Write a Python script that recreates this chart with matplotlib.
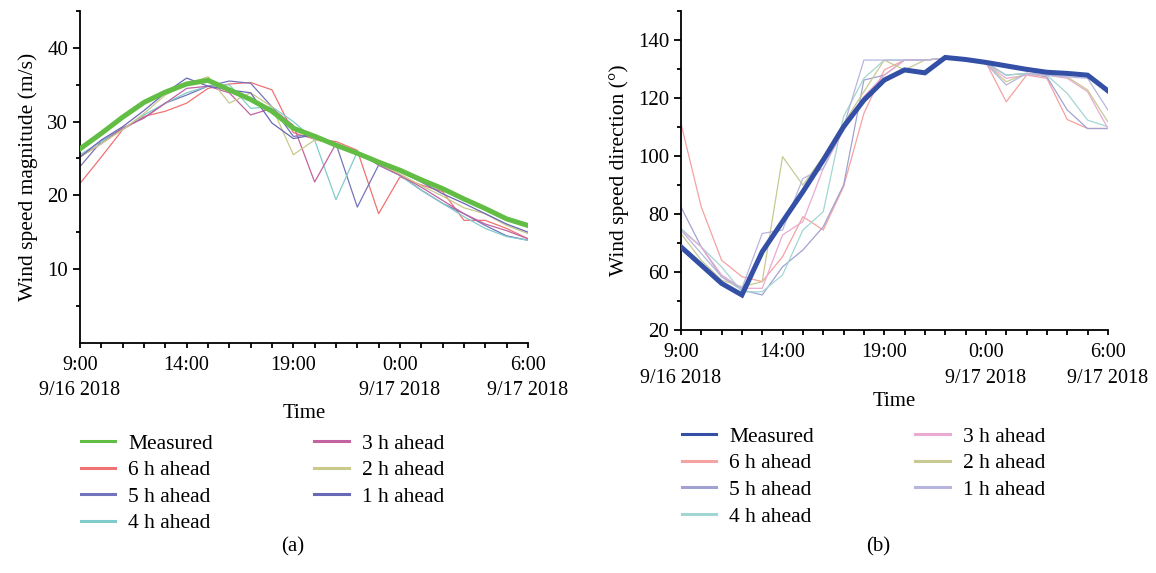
import numpy as np
import matplotlib
matplotlib.use('Agg')
import matplotlib.pyplot as plt
from matplotlib.lines import Line2D

plt.rcParams['font.family'] = ['Liberation Serif', 'DejaVu Serif']
plt.rcParams['font.size'] = 14

hours = np.arange(22)  # 9:00 9/16 -> 6:00 9/17, hourly
tick_text = {0: '9:00\n9/16 2018', 5: '14:00', 10: '19:00',
             15: '0:00\n9/17 2018', 21: '6:00\n9/17 2018'}

labels = ['Measured', '6 h ahead', '5 h ahead', '4 h ahead',
          '3 h ahead', '2 h ahead', '1 h ahead']

# (a) wind speed magnitude (m/s)
speed_measured = [26.3, 28.4, 30.6, 32.6, 34.0, 35.1, 35.6, 34.3, 33.0, 31.4, 29.1,
                  28.0, 26.8, 25.7, 24.5, 23.4, 22.1, 20.9, 19.5, 18.2, 16.8, 15.9]
speed_6h = [21.6, 25.2, 28.9, 30.7, 31.4, 32.5, 34.5, 35.1, 35.3, 34.3, 28.5,
            27.6, 27.3, 26.1, 17.5, 22.5, 21.4, 20.5, 16.6, 16.6, 15.5, 14.1]
speed_5h = [23.9, 27.3, 29.1, 30.5, 32.5, 33.6, 34.8, 35.5, 35.2, 32.0, 28.0,
            28.2, 27.0, 18.4, 24.1, 22.7, 20.7, 18.9, 17.5, 15.9, 14.5, 13.9]
speed_4h = [25.5, 27.3, 28.9, 30.9, 32.5, 33.9, 34.8, 35.0, 31.8, 32.0, 30.0,
            27.5, 19.4, 25.9, 24.1, 22.7, 20.7, 18.9, 17.1, 15.5, 14.4, 13.9]
speed_3h = [25.2, 27.0, 29.1, 30.5, 32.5, 34.5, 34.8, 33.9, 30.9, 31.8, 29.5,
            21.8, 27.0, 25.9, 24.1, 22.7, 21.1, 19.3, 17.5, 16.1, 15.2, 14.1]
speed_2h = [25.2, 27.0, 28.9, 31.1, 33.6, 35.0, 36.1, 32.5, 33.9, 32.0, 25.5,
            27.5, 27.0, 25.7, 24.3, 22.9, 21.3, 19.9, 18.3, 17.5, 15.9, 14.8]
speed_1h = [25.2, 27.5, 29.3, 31.5, 33.9, 35.9, 34.8, 34.3, 33.9, 29.8, 27.7,
            28.2, 27.0, 25.7, 24.3, 23.2, 21.8, 20.2, 18.9, 17.5, 16.1, 15.0]

# (b) wind speed direction (deg)
dir_measured = [68.7, 62.4, 56.1, 52.1, 67.0, 77.4, 87.7, 98.6, 110.1, 119.3, 126.2,
                129.7, 128.7, 134.0, 133.3, 132.3, 131.1, 129.9, 128.9, 128.5, 127.9, 122.5]
dir_6h = [111.3, 82.5, 64.1, 58.4, 56.7, 65.3, 79.1, 74.5, 89.4, 114.7, 129.7,
          133.1, 133.1, 133.7, 133.1, 132.3, 118.7, 127.9, 126.8, 112.6, 109.5, 109.5]
dir_5h = [82.5, 68.7, 58.4, 53.8, 52.1, 61.8, 67.6, 75.6, 90.0, 126.2, 127.9,
          133.1, 133.1, 133.7, 133.1, 132.3, 127.9, 128.5, 127.3, 115.9, 109.5, 109.5]
dir_4h = [75.1, 68.7, 61.8, 53.2, 53.2, 59.0, 74.5, 80.8, 113.6, 126.8, 133.1,
          133.1, 133.1, 133.7, 133.1, 131.9, 127.9, 128.5, 127.9, 121.6, 112.4, 110.1]
dir_3h = [74.5, 68.7, 59.0, 54.4, 54.4, 72.8, 77.4, 95.7, 109.0, 120.5, 127.9,
          133.1, 133.1, 133.7, 133.1, 131.9, 126.8, 127.9, 127.9, 126.8, 122.2, 109.5]
dir_2h = [73.3, 64.1, 57.2, 54.9, 56.7, 99.8, 90.0, 99.8, 111.3, 122.2, 133.1,
          129.7, 133.1, 133.7, 133.1, 131.9, 125.6, 128.5, 127.9, 127.3, 122.8, 111.8]
dir_1h = [74.5, 66.4, 58.4, 54.4, 73.3, 74.5, 92.3, 95.7, 110.1, 133.1, 133.1,
          133.1, 133.1, 133.7, 133.1, 131.9, 124.5, 128.5, 127.9, 127.3, 126.8, 115.9]

colors_a = ['#62bd45', '#f07272', '#7474bc', '#82cbcb', '#c262a0', '#c9c98a', '#6868b6']
colors_b = ['#3450a6', '#f4a2a2', '#a2a2d2', '#a2d6d2', '#eaaad2', '#c9c994', '#b6b6de']

fig = plt.figure(figsize=(11.56, 5.73), dpi=100)
ax1 = fig.add_axes([0.0692, 0.4019, 0.3875, 0.5789])
ax2 = fig.add_axes([0.589, 0.424, 0.3694, 0.5567])


def draw(ax, series, colors, main_lw):
    for i in range(1, 7):
        ax.plot(hours, series[i], color=colors[i], lw=0.9)
    ax.plot(hours, series[0], color=colors[0], lw=main_lw,
            solid_joinstyle='miter', zorder=5)
    # legend swatches all share one thickness
    return [Line2D([], [], color=c, lw=2.2) for c in colors]


def style(ax):
    for s in ['top', 'right']:
        ax.spines[s].set_visible(False)
    for s in ['left', 'bottom']:
        ax.spines[s].set_linewidth(1.3)
    ax.set_xlim(0, 21)
    ax.set_xticks(hours)
    ax.set_xticklabels([tick_text.get(h, '') for h in hours], linespacing=1.45)
    for h, t in zip(hours, ax.xaxis.get_major_ticks()):
        # long ticks on even clock hours
        t.tick1line.set_markersize(6 if (h + 9) % 2 == 0 else 3.5)
    ax.tick_params(axis='x', width=1.3, pad=6, labelsize=14.5)
    ax.tick_params(axis='y', which='major', length=5, width=1.3, labelsize=15)
    ax.tick_params(axis='y', which='minor', length=3, width=1.3)
    ax.set_xlabel('Time', fontsize=15, labelpad=3)


h1 = draw(ax1, [speed_measured, speed_6h, speed_5h, speed_4h, speed_3h, speed_2h, speed_1h],
          colors_a, 3.6)
style(ax1)
ax1.set_ylim(0, 45)
ax1.set_yticks([10, 20, 30, 40])
ax1.set_yticks([5, 15, 25, 35, 45], minor=True)
ax1.set_ylabel('Wind speed magnitude (m/s)', fontsize=15.5, labelpad=7)

h2 = draw(ax2, [dir_measured, dir_6h, dir_5h, dir_4h, dir_3h, dir_2h, dir_1h],
          colors_b, 3.6)
style(ax2)
ax2.set_ylim(40, 150)
ax2.set_yticks([40, 60, 80, 100, 120, 140])
ax2.set_yticklabels(['20', '60', '80', '100', '120', '140'])
ax2.set_yticks([50, 70, 90, 110, 130, 150], minor=True)
ax2.set_ylabel('Wind speed direction (°)', fontsize=15.5, labelpad=6)

leg_kw = dict(ncol=2, frameon=False, fontsize=15.5, handlelength=1.6,
              handletextpad=0.6, labelspacing=0.3, columnspacing=4.7,
              borderaxespad=0, borderpad=0)
fig.legend(handles=h1, labels=labels, loc='upper left',
           bbox_to_anchor=(0.07, 0.243), **leg_kw)
fig.legend(handles=h2, labels=labels, loc='upper left',
           bbox_to_anchor=(0.59, 0.255), **leg_kw)

fig.text(0.2535, 0.045, '(a)', ha='center', va='center', fontsize=15)
fig.text(0.7595, 0.045, '(b)', ha='center', va='center', fontsize=15)

plt.savefig('out.png', dpi=100)
